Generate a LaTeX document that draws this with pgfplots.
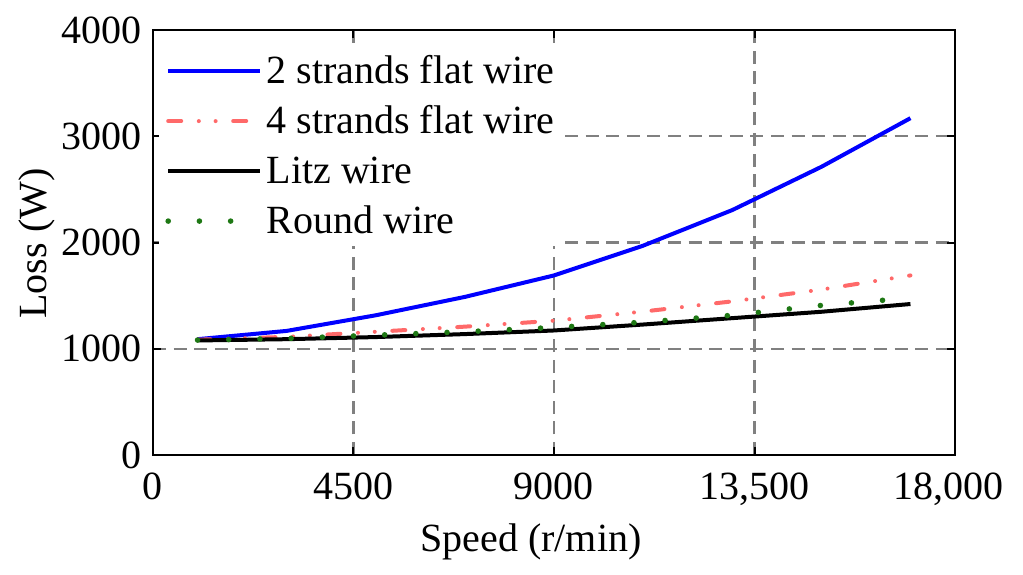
\documentclass[border=0pt]{standalone}
\usepackage{fontspec}
\setmainfont{Liberation Serif}
\usepackage{pgfplots}
\pgfplotsset{compat=1.18}
\definecolor{lossblue}{RGB}{0,0,255}
\definecolor{lossred}{RGB}{255,105,105}
\definecolor{lossgreen}{RGB}{30,120,20}
\definecolor{gridgray}{RGB}{128,128,128}
\newcommand{\bigfont}{\fontsize{20}{24}\selectfont}
\begin{document}
\begin{tikzpicture}
\begin{axis}[
  scale only axis,
  width=401pt, height=212.5pt,
  xmin=0, xmax=18000, ymin=0, ymax=4000,
  xtick={0,4500,9000,13500,18000},
  xticklabels={0,4500,9000,{13,500},{\kern-7pt 18,000}},
  ytick={0,1000,2000,3000,4000},
  yticklabels={0,1000,2000,3000,4000},
  scaled x ticks=false, scaled y ticks=false,
  tick align=inside,
  xtick pos=both, ytick pos=both,
  major tick length=4pt,
  major tick style={black, line width=1pt},
  axis line style={black, line width=1pt},
  grid=major,
  major grid style={gridgray, line width=1.1pt, dash pattern=on 6.5pt off 3.8pt},
  tick label style={font=\bigfont},
  xticklabel style={anchor=base, inner sep=0pt, yshift=-22pt},
  yticklabel style={anchor=east, inner sep=0pt, xshift=-5.7pt},
  label style={font=\bigfont},
  xlabel={Speed (r/min)},
  ylabel={Loss (W)},
  xlabel style={at={(axis description cs:0.4713,-0.2259)}, anchor=base, inner sep=0pt},
  ylabel style={at={(axis description cs:-0.1327,0.4976)}, anchor=base, rotate=0, inner sep=0pt},
  legend cell align=left,
  legend style={at={(axis description cs:0.0075,0.964)}, anchor=north west,
    draw=none, fill=white, inner xsep=3pt, inner ysep=3.5pt,
    row sep=6.6pt, column sep=1.8pt, font=\bigfont,
    nodes={inner sep=0pt, text height=15.4pt, text depth=3pt}},
  legend image code/.code={
    \draw[#1] (0pt,0pt) -- (46pt,0pt);
  },
]
\addplot[lossblue, line width=2pt, line join=round] coordinates {
(1000,1090)(3000,1168)(5000,1315)(7000,1488)(9000,1690)(11000,1970)(13000,2305)(15000,2712)(17000,3170)};
\addlegendentry{2 strands flat wire}
\addplot[lossred, line width=2pt, line cap=round, line join=round,
  dash pattern=on 6.5pt off 8.8pt on 0pt off 8.4pt on 0pt off 8.8pt] coordinates {
(1000,1085)(3000,1112)(5000,1160)(7000,1208)(9000,1264)(11000,1350)(13000,1446)(15000,1557)(17000,1690)};
\addlegendentry{4 strands flat wire}
\addplot[black, line width=2pt, line join=round] coordinates {
(1000,1078)(3000,1090)(5000,1110)(7000,1138)(9000,1172)(11000,1228)(13000,1288)(15000,1348)(17000,1421)};
\addlegendentry{Litz wire}
\addplot[lossgreen, line width=2.8pt, line cap=round,
  dash pattern=on 0pt off 15.6pt] coordinates {
(1000,1082)(3000,1097)(5000,1128)(7000,1160)(9000,1200)(11000,1250)(13000,1315)(15000,1408)(17000,1478)};
\addlegendentry{Round wire}
\end{axis}
\pgfresetboundingbox
\path[use as bounding box] (-76.5pt,-59.5pt) rectangle (435pt,227.5pt);
\end{tikzpicture}
\end{document}
